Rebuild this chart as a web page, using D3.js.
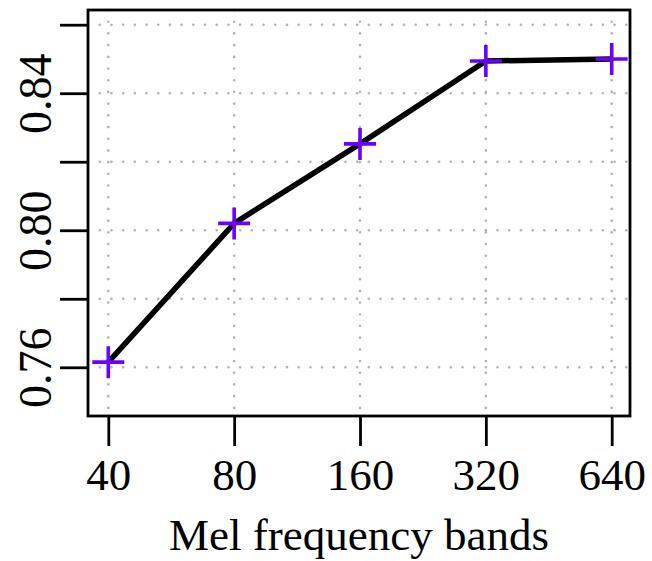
<!DOCTYPE html>
<html lang="en">
<head>
    <meta charset="UTF-8">
    <title>Mel bands</title>
    <script src="https://d3js.org/d3.v7.min.js"></script>
</head>
<style>
    html, body {
        margin: 0;
        padding: 0;
        background: #fff;
    }
    svg text {
        font-family: "Liberation Serif", "DejaVu Serif", serif;
        fill: #000;
    }
</style>
<body>
<svg id="chart" width="652" height="561"></svg>

<script>
    // data
    var bands = ['40', '80', '160', '320', '640']
    var accuracy = [0.7615, 0.802, 0.8252, 0.8494, 0.8500]
    var yTicks = [0.76, 0.78, 0.80, 0.82, 0.84, 0.86]
    var yLabels = [0.76, 0.80, 0.84]

    var colorLine = '#000'
    var colorMark = '#6a00ff'
    var colorGrid = '#b3b3b3'

    // plot box (window.top is reserved, so prefix the names)
    var boxL = 88, boxR = 630, boxT = 10, boxB = 416

    var svg = d3.select('#chart')

    var x = d3.scalePoint().domain(bands).range([108.3, 611.7])
    // 0.76 sits at 367.3 and 0.86 at 24.7
    var y = d3.scaleLinear().domain([0.76, 0.86]).range([367.3, 24.7])

    // grid
    var grid = svg.append('g')
    grid.selectAll('.hg').data(yTicks).enter().append('line')
        .attr('x1', boxL).attr('x2', boxR)
        .attr('y1', function (d) { return y(d) }).attr('y2', function (d) { return y(d) })
    grid.selectAll('.vg').data(bands).enter().append('line')
        .attr('y1', boxT).attr('y2', boxB)
        .attr('x1', function (d) { return x(d) }).attr('x2', function (d) { return x(d) })
    grid.selectAll('line')
        .attr('stroke', colorGrid)
        .attr('stroke-width', 2.6)
        .attr('stroke-dasharray', '0.1,11.6')
        .attr('stroke-linecap', 'round')

    // axes
    var yAxis = d3.axisLeft(y).tickValues(yTicks).tickSize(28)
        .tickFormat(function (d) { return yLabels.some(function (v) { return Math.abs(v - d) < 1e-6 }) ? d3.format('.2f')(d) : '' })
    var gy = svg.append('g').attr('transform', 'translate(' + boxL + ',0)').call(yAxis)
    gy.select('.domain').remove()
    gy.selectAll('.tick line').attr('stroke', '#000').attr('stroke-width', 2.8)
    gy.selectAll('.tick text')
        .attr('font-size', 46)
        .attr('font-family', '"Liberation Serif", serif')
        .attr('text-anchor', 'middle')
        .attr('dy', null)
        .attr('x', null)
        .attr('transform', 'translate(-37,0) rotate(-90)')

    var xAxis = d3.axisBottom(x).tickSize(30)
    var gx = svg.append('g').attr('transform', 'translate(0,' + boxB + ')').call(xAxis)
    gx.select('.domain').remove()
    gx.selectAll('.tick line').attr('stroke', '#000').attr('stroke-width', 2.8)
    gx.selectAll('.tick text')
        .attr('font-size', 45)
        .attr('font-family', '"Liberation Serif", serif')
        .attr('dy', null)
        .attr('y', 74)

    // frame
    svg.append('rect')
        .attr('x', boxL).attr('y', boxT)
        .attr('width', boxR - boxL).attr('height', boxB - boxT)
        .attr('fill', 'none').attr('stroke', '#000').attr('stroke-width', 2.8)

    // series
    var pts = bands.map(function (b, i) { return [x(b), y(accuracy[i])] })
    var line = d3.line()
    svg.append('path')
        .attr('d', line(pts))
        .attr('fill', 'none')
        .attr('stroke', colorLine)
        .attr('stroke-width', 5.5)
        .attr('stroke-linejoin', 'round')

    var s = 16
    svg.append('g').selectAll('path').data(pts).enter().append('path')
        .attr('d', function (p) {
            return 'M' + (p[0] - s) + ',' + p[1] + 'H' + (p[0] + s) +
                'M' + p[0] + ',' + (p[1] - s) + 'V' + (p[1] + s)
        })
        .attr('stroke', colorMark)
        .attr('stroke-width', 3.6)
        .attr('fill', 'none')

    // axis title
    svg.append('text')
        .attr('x', (boxL + boxR) / 2)
        .attr('y', 550)
        .attr('text-anchor', 'middle')
        .attr('font-size', 45)
        .text('Mel frequency bands')
</script>
</body>
</html>
